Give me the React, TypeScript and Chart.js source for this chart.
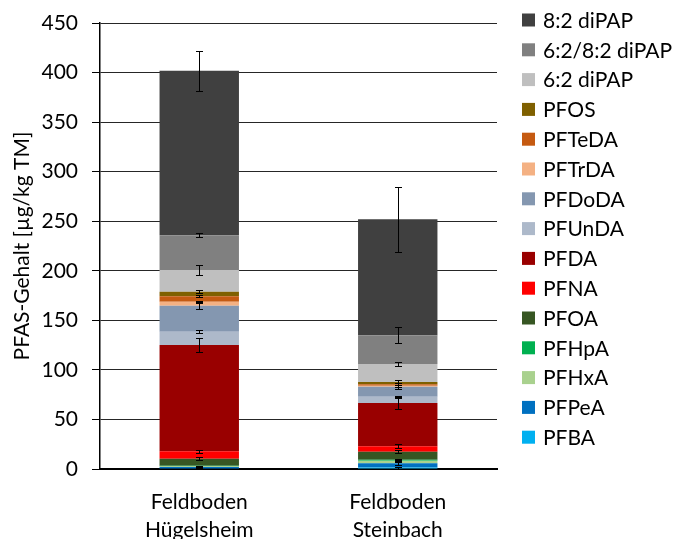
import React, { useEffect, useRef } from "react";
import { Chart, registerables } from "chart.js";

Chart.register(...registerables);

// Sampling sites (x categories, two-line labels)
const sites = [
  ["Feldboden", "Hügelsheim"],
  ["Feldboden", "Steinbach"],
];

// Compounds, stacked bottom to top
const compounds = [
  "PFBA",
  "PFPeA",
  "PFHxA",
  "PFHpA",
  "PFOA",
  "PFNA",
  "PFDA",
  "PFUnDA",
  "PFDoDA",
  "PFTrDA",
  "PFTeDA",
  "PFOS",
  "6:2 diPAP",
  "6:2/8:2 diPAP",
  "8:2 diPAP",
];

const compoundColors = [
  "#00B0F0",
  "#0070C0",
  "#A9D18E",
  "#00B050",
  "#375623",
  "#FF0000",
  "#990000",
  "#ADB9CA",
  "#8497B0",
  "#F4B183",
  "#C55A11",
  "#7F6000",
  "#BFBFBF",
  "#808080",
  "#404040",
];

// PFAS content in µg/kg dry matter, per compound (same order as compounds)
const hugelsheim = [0.5, 1.5, 1.0, 0.3, 7.0, 7.5, 107.3, 13.4, 26.3, 4.0, 5.5, 4.6, 21.9, 35.0, 166.0];
const steinbach = [1.5, 4.2, 2.6, 1.0, 8.0, 5.6, 43.7, 6.4, 10.0, 1.0, 1.4, 2.4, 18.2, 29.0, 117.0];

// Standard deviations, per compound
const hugelsheimErr = [0.3, 0.5, 0.3, 0.2, 1.5, 1.2, 7.0, 1.5, 3.5, 1.0, 1.0, 1.5, 5.5, 2.0, 20.0];
const steinbachErr = [1.0, 1.5, 1.0, 1.0, 1.5, 2.0, 6.0, 1.0, 2.0, 1.0, 1.0, 1.5, 2.0, 8.0, 33.0];

const yMax = 450;
const yStep = 50;

const FONT = 'Lato, "Open Sans", "Noto Sans", sans-serif';

const siteErrors = [hugelsheimErr, steinbachErr];

// Draws ±SD whiskers at the top of each stacked segment
const errorBarsPlugin = {
  id: "errorBars",
  afterDatasetsDraw(chart: any) {
    const { ctx } = chart;
    const yScale = chart.scales.y;
    const datasets = chart.data.datasets;
    ctx.save();
    ctx.strokeStyle = "#000";
    ctx.lineWidth = 1;
    datasets.forEach((ds: any, i: number) => {
      const meta = chart.getDatasetMeta(i);
      meta.data.forEach((bar: any, j: number) => {
        let cum = 0;
        for (let k = 0; k <= i; k++) cum += datasets[k].data[j];
        const err = siteErrors[j][i];
        const x = Math.round(bar.x) + 0.5;
        const yTop = Math.round(yScale.getPixelForValue(cum + err)) + 0.5;
        const yBot = Math.round(yScale.getPixelForValue(cum - err)) + 0.5;
        const cap = 3.5;
        ctx.beginPath();
        ctx.moveTo(x, yTop);
        ctx.lineTo(x, yBot);
        ctx.moveTo(x - cap, yTop);
        ctx.lineTo(x + cap, yTop);
        ctx.moveTo(x - cap, yBot);
        ctx.lineTo(x + cap, yBot);
        ctx.stroke();
      });
    });
    ctx.restore();
  },
};

// Legend on the right, top series first
const sideLegendPlugin = {
  id: "sideLegend",
  afterDraw(chart: any, _args: any, opts: any) {
    const { ctx } = chart;
    const datasets = chart.data.datasets;
    ctx.save();
    ctx.font = `${opts.fontSize}px ${FONT}`;
    ctx.textBaseline = "middle";
    ctx.textAlign = "left";
    const n = datasets.length;
    for (let r = 0; r < n; r++) {
      const ds = datasets[n - 1 - r];
      const cy = opts.top + r * opts.rowHeight;
      ctx.fillStyle = ds.backgroundColor;
      ctx.fillRect(opts.left, cy - opts.box / 2, opts.box, opts.box);
      ctx.fillStyle = "#000";
      ctx.fillText(ds.label, opts.left + opts.box + opts.gap, cy + 1);
    }
    ctx.restore();
  },
};

export default function App() {
  const canvasRef = useRef<HTMLCanvasElement | null>(null);

  useEffect(() => {
    if (!canvasRef.current) return;
    const datasets = compounds.map((name, i) => ({
      label: name,
      data: [hugelsheim[i], steinbach[i]],
      backgroundColor: compoundColors[i],
      borderWidth: 0,
      categoryPercentage: 1,
      barPercentage: 0.4,
    }));

    const chart = new Chart(canvasRef.current, {
      type: "bar",
      data: { labels: sites, datasets },
      plugins: [errorBarsPlugin, sideLegendPlugin],
      options: {
        responsive: false,
        animation: false,
        layout: { padding: { top: 23, right: 178, bottom: 0, left: 0 } },
        plugins: {
          legend: { display: false },
          tooltip: { enabled: false },
          sideLegend: { left: 522, top: 20, rowHeight: 29.8, box: 13, gap: 8, fontSize: 21 },
        } as any,
        scales: {
          x: {
            stacked: true,
            grid: { display: false, drawTicks: false },
            border: { display: true, color: "#000", width: 2 },
            ticks: {
              color: "#000",
              font: { family: FONT, size: 21, lineHeight: 1.3 },
              padding: 20,
              maxRotation: 0,
            },
            afterFit: (s: any) => {
              s.height = 70;
              s.paddingLeft = 0;
              s.paddingRight = 0;
            },
          },
          y: {
            stacked: true,
            min: 0,
            max: yMax,
            ticks: {
              stepSize: yStep,
              color: "#000",
              font: { family: FONT, size: 21 },
              padding: 14,
            },
            grid: {
              color: "#262626",
              lineWidth: 1,
              tickLength: 8,
              tickColor: "#000",
            },
            border: { display: true, color: "#000", width: 1.5 },
            title: {
              display: true,
              text: "PFAS-Gehalt [µg/kg TM]",
              color: "#000",
              font: { family: FONT, size: 21 },
              padding: { top: 10, bottom: 0 },
            },
            afterFit: (s: any) => {
              s.width = 100;
              s.paddingTop = 0;
              s.paddingBottom = 0;
            },
          },
        },
      },
    });
    return () => chart.destroy();
  }, []);

  return (
    <div style={{ position: "fixed", left: 0, top: 0, width: 675, height: 539, background: "#fff" }}>
      <canvas ref={canvasRef} width={675} height={539} />
    </div>
  );
}
